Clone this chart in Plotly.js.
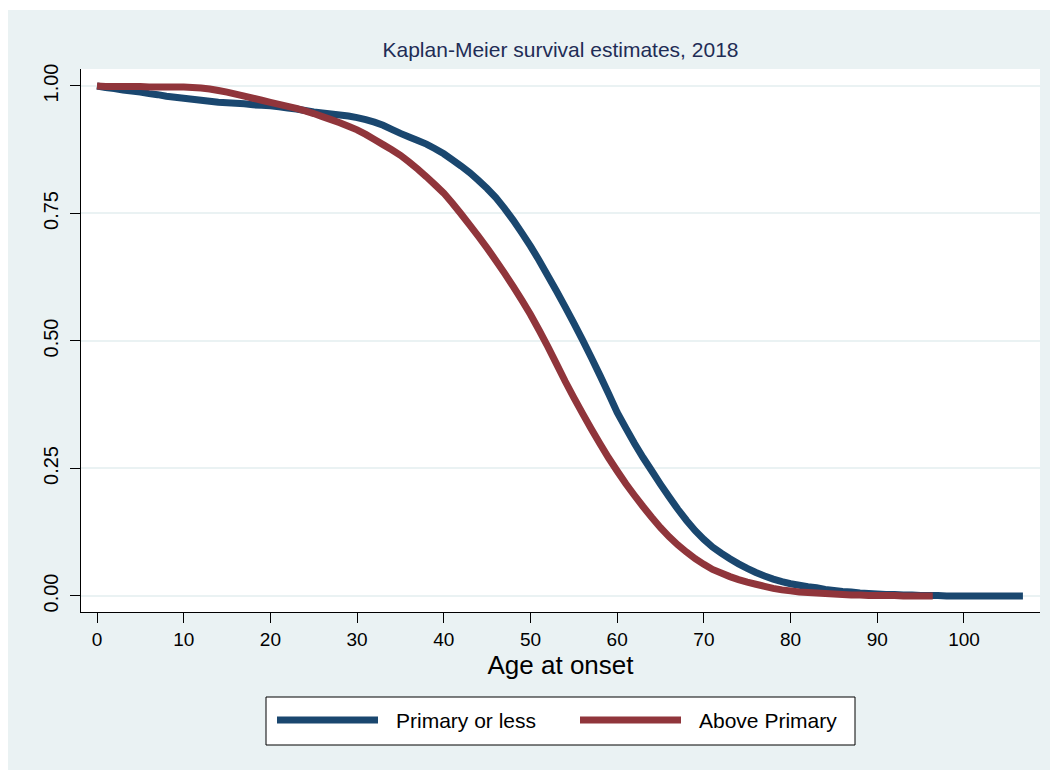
<!DOCTYPE html>
<html>
<head>
<meta charset="utf-8">
<script src="https://cdn.plot.ly/plotly-3.0.1.min.js"></script>
<style>
html,body{margin:0;padding:0;background:#ffffff;}
#chart{position:absolute;left:8px;top:10px;width:1042px;height:760px;}
</style>
</head>
<body>
<div id="chart"></div>
<script>
// ---- Data ----
const agesPrimary = [0,1,2,3,4,5,6,7,8,9,10,11,12,13,14,15,16,17,18,19,20,21,22,23,24,25,26,27,28,29,30,31,32,33,34,35,36,37,38,39,40,41,42,43,44,45,46,47,48,49,50,51,52,53,54,55,56,57,58,59,60,61,62,63,64,65,66,67,68,69,70,71,72,73,74,75,76,77,78,79,80,81,82,83,84,85,86,87,88,89,90,91,92,93,94,95,96,97,98,99,100,101,102,103,104,105,106,106.8];
const survPrimary = [1.000,0.997,0.995,0.992,0.990,0.988,0.985,0.983,0.980,0.978,0.976,0.974,0.972,0.970,0.968,0.967,0.966,0.965,0.963,0.962,0.961,0.959,0.957,0.955,0.952,0.949,0.947,0.945,0.943,0.941,0.938,0.934,0.929,0.923,0.915,0.907,0.900,0.893,0.886,0.877,0.867,0.855,0.843,0.830,0.815,0.799,0.781,0.760,0.737,0.712,0.686,0.658,0.628,0.598,0.567,0.535,0.502,0.468,0.433,0.397,0.360,0.329,0.299,0.271,0.245,0.219,0.194,0.170,0.148,0.128,0.111,0.096,0.084,0.073,0.063,0.054,0.046,0.039,0.033,0.028,0.024,0.021,0.018,0.016,0.013,0.011,0.009,0.008,0.006,0.005,0.004,0.003,0.003,0.002,0.002,0.001,0.001,0.001,0.000,0.000,0.000,0.000,0.000,0.000,0.000,0.000,0.000,0.000];

const agesAbove = [0,1,2,3,4,5,6,7,8,9,10,11,12,13,14,15,16,17,18,19,20,21,22,23,24,25,26,27,28,29,30,31,32,33,34,35,36,37,38,39,40,41,42,43,44,45,46,47,48,49,50,51,52,53,54,55,56,57,58,59,60,61,62,63,64,65,66,67,68,69,70,71,72,73,74,75,76,77,78,79,80,81,82,83,84,85,86,87,88,89,90,91,92,93,94,95,96,96.4];
const survAbove = [1.000,0.999,0.999,0.999,0.999,0.999,0.998,0.998,0.998,0.998,0.998,0.997,0.996,0.994,0.991,0.988,0.984,0.980,0.976,0.972,0.968,0.964,0.960,0.956,0.951,0.946,0.940,0.934,0.928,0.921,0.914,0.905,0.895,0.885,0.875,0.864,0.851,0.837,0.822,0.806,0.790,0.770,0.749,0.727,0.705,0.682,0.658,0.633,0.607,0.580,0.552,0.521,0.489,0.455,0.421,0.389,0.358,0.328,0.299,0.271,0.245,0.220,0.197,0.175,0.154,0.134,0.116,0.100,0.086,0.073,0.062,0.052,0.045,0.038,0.032,0.027,0.023,0.019,0.015,0.012,0.010,0.008,0.007,0.006,0.005,0.004,0.003,0.002,0.002,0.001,0.001,0.001,0.001,0.000,0.000,0.000,0.000,0.000];

const seriesNames = ['Primary or less', 'Above Primary'];
const xTickVals = [0,10,20,30,40,50,60,70,80,90,100];
const xTickText = ['0','10','20','30','40','50','60','70','80','90','100'];
const yTickVals = [0,0.25,0.5,0.75,1];
const yTickText = ['0.00','0.25','0.50','0.75','1.00'];
const chartTitle = 'Kaplan-Meier survival estimates, 2018';
const xTitle = 'Age at onset';

// ---- Styles / layout ----
const colors = ['#1A476F', '#90353B'];
const FONT = 'Liberation Sans, Arial, Helvetica, sans-serif';
const W = 1042, H = 760;
const M = {l: 73, r: 10, t: 59, b: 158};
const plotW = W - M.l - M.r, plotH = H - M.t - M.b;
const px = v => (v - M.l) / plotW;           // div pixel x -> paper x
const py = v => (H - M.b - v) / plotH;       // div pixel y -> paper y

const traces = [
  {x: agesPrimary, y: survPrimary, name: seriesNames[0], type: 'scatter', mode: 'lines',
   line: {color: colors[0], width: 7, shape: 'linear', simplify: false}, showlegend: false, hoverinfo: 'x+y+name'},
  {x: agesAbove, y: survAbove, name: seriesNames[1], type: 'scatter', mode: 'lines',
   line: {color: colors[1], width: 7, shape: 'linear', simplify: false}, showlegend: false, hoverinfo: 'x+y+name'}
];

// manual legend (Stata style box)
const legBox = {x0: 258, x1: 847, y0: 687, y1: 735};
const legY = 710;
const legItems = [
  {lx0: 269, lx1: 370, tx: 386},
  {lx0: 572, lx1: 673, tx: 689}
];

const shapes = [
  {type: 'rect', xref: 'paper', yref: 'paper', layer: 'above',
   x0: px(legBox.x0), x1: px(legBox.x1), y0: py(legBox.y1), y1: py(legBox.y0),
   line: {color: '#000000', width: 1}, fillcolor: '#ffffff'}
];
const annotations = [];
legItems.forEach((it, i) => {
  shapes.push({type: 'line', xref: 'paper', yref: 'paper', layer: 'above',
    x0: px(it.lx0), x1: px(it.lx1), y0: py(legY), y1: py(legY),
    line: {color: colors[i], width: 7}});
  annotations.push({xref: 'paper', yref: 'paper', x: px(it.tx), y: py(legY),
    xanchor: 'left', yanchor: 'middle', showarrow: false, text: seriesNames[i],
    font: {family: FONT, size: 21, color: '#000000'}});
});

const layout = {
  width: W, height: H,
  paper_bgcolor: '#EAF2F3',
  plot_bgcolor: '#ffffff',
  margin: M,
  font: {family: FONT, color: '#000000'},
  title: {text: chartTitle, x: 0.5, xref: 'paper', xanchor: 'center',
          y: 1 - 40 / H, yref: 'container', yanchor: 'middle',
          font: {family: FONT, size: 21, color: '#1F2D56'}},
  xaxis: {
    range: [-1.845, 108.77], tickmode: 'array', tickvals: xTickVals, ticktext: xTickText,
    ticks: 'outside', ticklen: 10, tickwidth: 1, tickcolor: '#000000',
    showline: true, linecolor: '#000000', linewidth: 1,
    showgrid: false, zeroline: false, automargin: false,
    tickfont: {family: FONT, size: 19, color: '#000000'},
    title: {text: xTitle, font: {family: FONT, size: 26, color: '#000000'}, standoff: 4}
  },
  yaxis: {
    range: [-0.0314, 1.0333], tickmode: 'array', tickvals: yTickVals, ticktext: yTickText,
    tickangle: -90, ticks: 'outside', ticklen: 10, tickwidth: 1, tickcolor: '#000000',
    ticklabelstandoff: 4,
    showline: true, linecolor: '#000000', linewidth: 1,
    showgrid: true, gridcolor: '#EAF2F3', gridwidth: 2, zeroline: false, automargin: false,
    tickfont: {family: FONT, size: 20, color: '#000000'}
  },
  shapes: shapes,
  annotations: annotations,
  showlegend: false
};

Plotly.newPlot('chart', traces, layout, {displayModeBar: false, responsive: false});
</script>
</body>
</html>
